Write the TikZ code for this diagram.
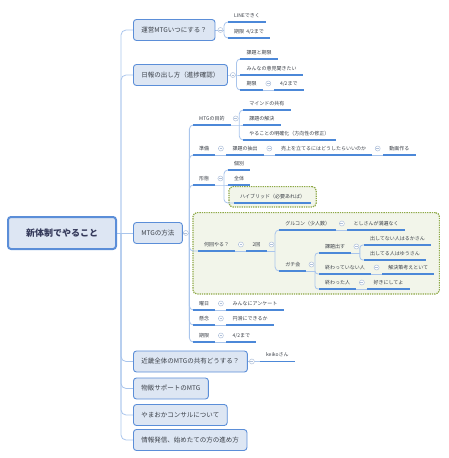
\documentclass[tikz,border=0pt]{standalone}
\usepackage{fontspec}
\setmainfont{Noto Sans CJK JP}
\usetikzlibrary{calc,fit,backgrounds}
\definecolor{topicfill}{HTML}{DDE6F3}
\definecolor{topicline}{HTML}{5B8ED8}
\definecolor{linkblue}{HTML}{A9C5EC}
\definecolor{barblue}{HTML}{4C88D8}
\definecolor{togline}{HTML}{AFC0DA}
\definecolor{grpfill}{HTML}{F2F5EA}
\definecolor{grpline}{HTML}{8DA845}
\definecolor{txtgray}{HTML}{3A3F47}
\tikzset{
  topic/.style={draw=topicline, fill=topicfill, line width=0.9pt, rounded corners=3pt, anchor=west,
    minimum height=21pt, inner xsep=8pt, font=\fontsize{6.5}{7}\selectfont, text=txtgray},
  rootbox/.style={topic, anchor=center, line width=2pt, minimum height=32pt, minimum width=108pt,
    font=\fontsize{9}{10}\selectfont\bfseries, text=txtgray!90!blue},
  uline/.style={draw=barblue, line width=1.1pt},
  leaf/.style={anchor=south west, inner xsep=6pt, inner ysep=3.5pt, text height=4pt, text depth=1pt,
    font=\fontsize{5}{6}\selectfont, text=txtgray,
    append after command={(\tikzlastnode.south west) edge[uline] (\tikzlastnode.south east)}},
  tog/.style={circle, draw=togline, fill=white, line width=0.5pt, minimum size=5pt, inner sep=0pt,
    path picture={\draw[togline, line width=0.5pt] ([xshift=-1.4pt]path picture bounding box.center)
      -- ([xshift=1.4pt]path picture bounding box.center);}},
  link/.style={draw=linkblue, line width=0.8pt},
  grp/.style={draw=grpline, fill=grpfill, line width=1.2pt, dash pattern=on 1.3pt off 1pt, rounded corners=4pt},
}
\begin{document}
\begin{tikzpicture}[x=1pt, y=-1pt]
\useasboundingbox (0,0) rectangle (448,458);

% root and main topics
\node[rootbox] (root) at (62,233) {新体制でやること};
\node[topic] (mtgwhen) at (133,30) {運営MTGいつにする？};
\node[topic] (report) at (133,75) {日報の出し方（進捗確認）};
\node[topic] (method) at (133,233) {MTGの方法};
\node[topic] (kinki) at (133,361.5) {近畿全体のMTGの共有どうする？};
\node[topic] (buppan) at (133,388.5) {物販サポートのMTG};
\node[topic] (yamaoka) at (133,415) {やまおかコンサルについて};
\node[topic] (hasshin) at (133,440) {情報発信、始めたての方の進め方};
\coordinate (j0) at ($(root.east)+(4,0)$);

% 運営MTG
\node[tog] (t1) at ($(mtgwhen.east)+(5,0)$) {};
\coordinate (j1) at ($(mtgwhen.east)+(8.5,0)$);
\node[leaf] (line) at ($(j1)+(4,-8)$) {LINEできく};
\node[leaf] (due1) at ($(j1)+(4,8)$) {期限\ \ 4/2まで};

% 日報
\node[tog] (t2) at ($(report.east)+(5,0)$) {};
\coordinate (j2) at ($(report.east)+(8.5,0)$);
\node[leaf] (kadai) at ($(j2)+(4,-16)$) {課題と期限};
\node[leaf] (iken) at ($(j2)+(4,0)$) {みんなの意見聞きたい};
\node[leaf] (due2) at ($(j2)+(4,15)$) {期限};
\node[leaf] (date2) at ($(due2.south east)+(11,0)$) {4/2まで};
\node[tog] (t21) at ($(due2.south east)!.5!(date2.south west)+(0,-6.5)$) {};

% MTGの方法
\node[tog] (t3) at ($(method.east)+(3,0)$) {};
\coordinate (j3) at ($(method.east)+(6.5,0)$);
\node[leaf] (purpose) at (193,125) {MTGの目的};
\node[tog] (t31) at ($(purpose.south east)+(5,-6.5)$) {};
\coordinate (j31) at ($(purpose.south east)+(8.5,0)$);
\node[leaf] (mind) at ($(j31)+(4,-15)$) {マインドの共有};
\node[leaf] (solve) at ($(j31)+(4,0)$) {課題の解決};
\node[leaf] (clarify) at ($(j31)+(4,15)$) {やることの明確化（方向性の修正）};

\node[leaf] (prep) at (193,155) {準備};
\node[leaf] (extract) at ($(prep.south east)+(11,0)$) {課題の抽出};
\node[leaf] (sales) at ($(extract.south east)+(11,0)$) {売上を立てるにはどうしたらいいのか};
\node[leaf] (video) at ($(sales.south east)+(11,0)$) {動画作る};
\node[tog] (t32) at ($(prep.south east)!.5!(extract.south west)+(0,-6.5)$) {};
\node[tog] (t321) at ($(extract.south east)!.5!(sales.south west)+(0,-6.5)$) {};
\node[tog] (t322) at ($(sales.south east)!.5!(video.south west)+(0,-6.5)$) {};

\node[leaf] (form) at (193,185) {形態};
\node[tog] (t33) at ($(form.south east)+(5,-6.5)$) {};
\coordinate (j33) at ($(form.south east)+(8.5,0)$);
\node[leaf] (indiv) at ($(j33)+(4,-15)$) {個別};
\node[leaf] (whole) at ($(j33)+(4,0)$) {全体};
\node[leaf] (hybrid) at ($(j33)+(10,18)$) {ハイブリッド（必要あれば）};

\node[leaf] (times) at (198,251) {何回やる？};
\node[leaf] (twice) at ($(times.south east)+(11,0)$) {2回};
\node[tog] (t34) at ($(times.south east)!.5!(twice.south west)+(0,-6.5)$) {};
\node[tog] (t341) at ($(twice.south east)+(5,-6.5)$) {};
\coordinate (j341) at ($(twice.south east)+(8.5,0)$);
\node[leaf] (gurukon) at ($(j341)+(4,-21)$) {グルコン（少人数）};
\node[leaf] (toshi) at ($(gurukon.south east)+(11,0)$) {としさんが満遍なく};
\node[tog] (t3411) at ($(gurukon.south east)!.5!(toshi.south west)+(0,-6.5)$) {};
\node[leaf] (gachi) at ($(j341)+(4,20)$) {ガチ会};
\node[tog] (t3412) at ($(gachi.south east)+(5,-6.5)$) {};
\coordinate (j3412) at ($(gachi.south east)+(8.5,0)$);
\node[leaf] (dasu) at ($(j3412)+(4,-18)$) {課題出す};
\node[tog] (t34121) at ($(dasu.south east)+(5,-6.5)$) {};
\coordinate (j34121) at ($(dasu.south east)+(8.5,0)$);
\node[leaf] (haruka) at ($(j34121)+(4,-8)$) {出してない人はるかさん};
\node[leaf] (yuu) at ($(j34121)+(4,7)$) {出してる人はゆうさん};
\node[leaf] (notdone) at ($(j3412)+(4,3)$) {終わっていない人};
\node[leaf] (kaiketsu) at ($(notdone.south east)+(11,0)$) {解決策考えといて};
\node[tog] (t34122) at ($(notdone.south east)!.5!(kaiketsu.south west)+(0,-6.5)$) {};
\node[leaf] (done) at ($(j3412)+(4,18)$) {終わった人};
\node[leaf] (suki) at ($(done.south east)+(11,0)$) {好きにしてよ};
\node[tog] (t34123) at ($(done.south east)!.5!(suki.south west)+(0,-6.5)$) {};

\node[leaf] (youbi) at (193,310) {曜日};
\node[leaf] (enquete) at ($(youbi.south east)+(11,0)$) {みんなにアンケート};
\node[tog] (t35) at ($(youbi.south east)!.5!(enquete.south west)+(0,-6.5)$) {};
\node[leaf] (kenen) at (193,325) {懸念};
\node[leaf] (enkatsu) at ($(kenen.south east)+(11,0)$) {円滑にできるか};
\node[tog] (t36) at ($(kenen.south east)!.5!(enkatsu.south west)+(0,-6.5)$) {};
\node[leaf] (due3) at (193,342) {期限};
\node[leaf] (date3) at ($(due3.south east)+(11,0)$) {4/2まで};
\node[tog] (t37) at ($(due3.south east)!.5!(date3.south west)+(0,-6.5)$) {};

% 近畿全体
\node[leaf] (keiko) at ($(kinki.east)+(12,0)$) {keikoさん};
\node[tog] (t4) at ($(kinki.east)+(4,0)$) {};

\begin{scope}[on background layer]
\node[grp, fit=(hybrid), inner xsep=5pt, inner ysep=4pt] (hybridbox) {};
\node[grp, fit=(times)(gurukon)(toshi)(haruka)(yuu)(kaiketsu)(suki), inner sep=5pt] (timesbox) {};

% connectors
\draw[link] (root.east) -- (method.west);
\foreach \b in {mtgwhen,report,kinki,buppan,yamaoka,hasshin}
  \draw[link, rounded corners=5pt] (j0) |- (\b.west);
\draw[link] (mtgwhen.east) -- (j1);
\foreach \c in {line,due1}
  \draw[link, rounded corners=4pt] (j1) |- (\c.south west);
\draw[link] (report.east) -- (j2) -- (iken.south west);
\foreach \c in {kadai,due2}
  \draw[link, rounded corners=4pt] (j2) |- (\c.south west);
\draw[link] (due2.south east) -- (date2.south west);
\draw[link] (method.east) -- (j3);
\foreach \c in {purpose,prep,form,times,youbi,kenen,due3}
  \draw[link, rounded corners=4pt] (j3) |- (\c.south west);
\draw[link] (purpose.south east) -- (j31) -- (solve.south west);
\foreach \c in {mind,clarify}
  \draw[link, rounded corners=4pt] (j31) |- (\c.south west);
\draw[link] (prep.south east) -- (extract.south west);
\draw[link] (extract.south east) -- (sales.south west);
\draw[link] (sales.south east) -- (video.south west);
\draw[link] (form.south east) -- (j33) -- (whole.south west);
\foreach \c in {indiv,hybrid}
  \draw[link, rounded corners=4pt] (j33) |- (\c.south west);
\draw[link] (times.south east) -- (twice.south west);
\draw[link] (twice.south east) -- (j341);
\foreach \c in {gurukon,gachi}
  \draw[link, rounded corners=4pt] (j341) |- (\c.south west);
\draw[link] (gurukon.south east) -- (toshi.south west);
\draw[link] (gachi.south east) -- (j3412);
\foreach \c in {dasu,notdone,done}
  \draw[link, rounded corners=3pt] (j3412) |- (\c.south west);
\draw[link] (dasu.south east) -- (j34121);
\foreach \c in {haruka,yuu}
  \draw[link, rounded corners=3pt] (j34121) |- (\c.south west);
\draw[link] (notdone.south east) -- (kaiketsu.south west);
\draw[link] (done.south east) -- (suki.south west);
\draw[link] (youbi.south east) -- (enquete.south west);
\draw[link] (kenen.south east) -- (enkatsu.south west);
\draw[link] (due3.south east) -- (date3.south west);
\draw[link] (kinki.east) -- (keiko.south west);
\end{scope}
\end{tikzpicture}
\end{document}
